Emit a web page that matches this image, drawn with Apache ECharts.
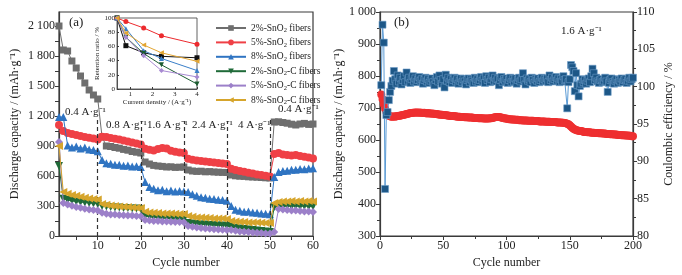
<!DOCTYPE html>
<html>
<head>
<meta charset="utf-8">
<script src="https://cdn.jsdelivr.net/npm/echarts@6/dist/echarts.min.js"></script>
<style>
html, body { margin: 0; padding: 0; background: #fff; }
#chart { width: 682px; height: 275px; }
</style>
</head>
<body>
<div id="chart"></div>
<script>
// (a) 倍率性能，每个系列 60 个循环
const rateNames = ["2%-SnO₂ fibers", "5%-SnO₂ fibers", "8%-SnO₂ fibers",
    "2%-SnO₂-C fibers", "5%-SnO₂-C fibers", "8%-SnO₂-C fibers"];
const rate2Sn = [2100, 1860, 1850, 1750, 1680, 1600, 1530, 1460, 1410, 1370,
    990, 900, 895, 885, 878, 866, 858, 845, 838, 830,
    740, 720, 706, 700, 696, 690, 692, 686, 688, 690,
    660, 650, 646, 648, 642, 644, 640, 638, 636, 635,
    610, 602, 598, 596, 592, 590, 588, 585, 582, 580,
    1140, 1142, 1135, 1128, 1118, 1110, 1120, 1126, 1116, 1120];
const rate5Sn = [1110, 1050, 1030, 1020, 1010, 1000, 990, 982, 975, 965,
    992, 990, 980, 972, 965, 956, 946, 936, 926, 915,
    872, 862, 856, 870, 880, 874, 852, 842, 836, 830,
    772, 762, 756, 750, 746, 740, 736, 730, 726, 720,
    672, 660, 650, 642, 632, 625, 616, 610, 602, 596,
    820, 830, 816, 810, 804, 810, 800, 792, 786, 776];
const rate8Sn = [1190, 1190, 905, 885, 895, 875, 885, 865, 860, 848,
    760, 728, 722, 712, 712, 702, 704, 696, 698, 690,
    540, 490, 472, 458, 462, 448, 454, 444, 450, 446,
    440, 418, 402, 388, 382, 372, 370, 362, 360, 352,
    300, 262, 252, 242, 244, 234, 232, 224, 222, 218,
    590, 640, 650, 652, 662, 662, 670, 668, 676, 678];
const rate2SnC = [700, 372, 360, 352, 344, 340, 334, 330, 326, 320,
    300, 296, 290, 286, 284, 280, 280, 276, 274, 270,
    200, 192, 186, 182, 180, 176, 174, 170, 168, 165,
    130, 124, 120, 116, 114, 110, 108, 105, 104, 100,
    90, 82, 76, 70, 66, 60, 56, 50, 46, 40,
    290, 296, 294, 300, 296, 300, 294, 300, 296, 296];
const rate5SnC = [940, 330, 316, 302, 290, 282, 272, 266, 260, 255,
    232, 222, 216, 214, 210, 208, 205, 204, 200, 198,
    160, 156, 150, 150, 146, 144, 142, 140, 140, 138,
    100, 92, 86, 80, 76, 72, 68, 66, 62, 60,
    60, 52, 46, 42, 40, 36, 32, 30, 26, 24,
    40, 270, 266, 260, 256, 254, 250, 246, 244, 240];
const rate8SnC = [900, 440, 422, 410, 402, 392, 382, 376, 370, 364,
    320, 312, 306, 300, 296, 292, 290, 286, 282, 280,
    242, 236, 232, 230, 226, 226, 224, 222, 220, 220,
    200, 192, 186, 186, 182, 180, 176, 176, 174, 170,
    150, 146, 142, 140, 136, 136, 134, 132, 130, 130,
    330, 340, 344, 346, 350, 344, 350, 346, 350, 346];
const rateSteps = [10, 20, 30, 40, 50];
const rateXTicks = [10, 20, 30, 40, 50, 60];
const rateYTicks = [0, 300, 600, 900, 1200, 1500, 1800, 2100];

// 插图：容量保持率
const densities = [0.4, 0.8, 1.6, 2.4, 4];
const keep2Sn = [100, 61, 51, 46, 44];
const keep5Sn = [100, 95, 86, 75, 63];
const keep8Sn = [100, 85, 54, 43, 26];
const keep2SnC = [100, 73, 50, 34, 7];
const keep5SnC = [100, 73, 47, 26, 17];
const keep8SnC = [100, 79, 62, 51, 39];

// (b) 1.6 A/g 循环 200 次
const cycCap = [742, 728, 712, 698, 688, 680, 676, 674, 673, 673,
    674, 673, 674, 675, 676, 676, 677, 678, 679, 680,
    681, 682, 683, 684, 684, 685, 685, 686, 686, 685,
    686, 685, 685, 684, 685, 684, 683, 684, 683, 683,
    683, 682, 682, 681, 681, 680, 680, 679, 679, 678,
    678, 677, 677, 676, 676, 675, 675, 675, 674, 674,
    673, 673, 673, 672, 672, 672, 671, 671, 671, 670,
    670, 670, 670, 669, 669, 669, 669, 668, 668, 668,
    668, 667, 667, 667, 667, 667, 668, 668, 669, 670,
    671, 672, 672, 672, 671, 670, 669, 668, 667, 667,
    666, 665, 665, 664, 664, 664, 663, 663, 663, 662,
    662, 662, 661, 661, 661, 661, 660, 660, 660, 660,
    660, 659, 659, 659, 659, 658, 658, 658, 658, 658,
    657, 657, 657, 657, 656, 656, 656, 656, 656, 655,
    655, 655, 655, 654, 654, 653, 652, 651, 649, 646,
    642, 638, 635, 633, 631, 630, 629, 628, 628, 627,
    625, 625, 625, 624, 624, 624, 623, 623, 623, 622,
    622, 622, 621, 621, 621, 620, 620, 620, 619, 619,
    619, 618, 618, 618, 617, 617, 617, 616, 616, 616,
    615, 615, 615, 614, 614, 614, 613, 613, 612, 612];
const cycCE = [100.2, 108.3, 105.9, 86.3, 96.2, 96.6, 98.2, 99.3, 100.1, 100.8,
    102.1, 101.0, 100.4, 101.5, 100.7, 101.2, 100.3, 100.9, 101.4, 100.6,
    101.9, 100.8, 101.2, 100.5, 101.0, 101.4, 100.7, 101.1, 100.6, 100.9,
    101.3, 100.8, 101.0, 100.4, 100.9, 101.2, 100.7, 101.0, 100.5, 100.8,
    101.1, 100.6, 100.2, 100.9, 101.3, 100.7, 101.5, 100.9, 100.4, 101.0,
    99.9, 101.6, 100.8, 101.2, 100.6, 101.0, 100.5, 100.9, 101.2, 100.7,
    101.0, 100.4, 100.8, 101.1, 100.6, 101.0, 100.7, 100.3, 100.9, 101.1,
    100.6, 101.0, 100.8, 100.5, 101.2, 100.7, 101.0, 100.6, 100.9, 101.3,
    100.8, 101.1, 100.5, 101.4, 100.9, 101.2, 100.6, 101.0, 101.5, 100.8,
    101.2, 100.7, 101.0, 100.2, 100.9, 101.3, 100.6, 101.0, 100.8, 101.1,
    100.5, 100.9, 101.2, 100.6, 101.0, 100.7, 101.1, 100.4, 100.9, 101.2,
    100.7, 101.0, 101.8, 100.9, 100.3, 101.1, 100.8, 101.0, 100.6, 101.2,
    100.9, 100.5, 101.0, 100.8, 101.1, 100.6, 100.9, 101.2, 100.7, 101.0,
    100.8, 101.1, 100.6, 101.5, 100.9, 101.2, 100.7, 101.0, 101.3, 100.8,
    101.1, 100.6, 101.0, 100.7, 101.4, 100.9, 101.0, 97.1, 100.6, 101.0,
    102.9, 102.6, 102.1, 99.4, 101.8, 100.2, 98.7, 100.1, 100.4, 101.0,
    100.6, 100.9, 100.4, 100.8, 101.1, 100.6, 101.4, 102.4, 101.8, 100.9,
    101.2, 100.7, 100.5, 100.9, 101.0, 100.6, 100.8, 101.2, 100.7, 99.3,
    100.5, 100.9, 101.1, 100.6, 100.4, 100.8, 101.0, 100.5, 100.9, 100.7,
    101.1, 100.6, 100.9, 101.0, 100.5, 100.8, 101.2, 100.7, 101.0, 101.2];

const FONT = '"Liberation Serif", "Times New Roman", serif';
const AX = '#3a3a3a';
const colors = ['#6e6e6e', '#ef4046', '#2f74c2', '#1f6a38', '#9c80c9', '#d6a52c'];
const insetColors = ['#111111', '#ec2a2e', '#3a7fc8', '#1c5c30', '#a88ad2', '#e2a532'];
const symbols = ['rect', 'circle', 'triangle', 'triangle', 'diamond', 'triangle'];
const rotates = [0, 0, 0, 180, 0, 90];

const rateData = [rate2Sn, rate5Sn, rate8Sn, rate2SnC, rate5SnC, rate8SnC];
const keepData = [keep2Sn, keep5Sn, keep8Sn, keep2SnC, keep5SnC, keep8SnC];

function sep(v) {
    return v >= 1000 ? String(v).replace(/(\d)(\d{3})$/, '$1 $2') : String(v);
}

let series = [];
rateData.forEach(function (arr, k) {
    series.push({
        name: rateNames[k],
        type: 'line',
        xAxisIndex: 0, yAxisIndex: 0,
        data: arr.map(function (v, i) { return [i + 1, v]; }),
        symbol: symbols[k],
        symbolRotate: rotates[k],
        symbolSize: k === 0 ? 7 : 8,
        itemStyle: { color: colors[k] },
        lineStyle: { color: colors[k], width: 1 },
        z: 2 + k
    });
});
// 分段虚线
series[0].markLine = {
    silent: true,
    symbol: ['none', 'none'],
    label: { show: false },
    lineStyle: { type: [4, 3], color: '#333', width: 1.2 },
    data: rateSteps.map(function (c) {
        let top = (c === 10 || c === 50) ? 1180 : 1150;
        return [{ coord: [c, 0] }, { coord: [c, top] }];
    })
};
keepData.forEach(function (arr, k) {
    series.push({
        name: rateNames[k],
        type: 'line',
        xAxisIndex: 1, yAxisIndex: 1,
        data: arr.map(function (v, i) { return [densities[i], v]; }),
        symbol: symbols[k],
        symbolRotate: rotates[k],
        symbolSize: 5,
        itemStyle: { color: insetColors[k] },
        lineStyle: { color: insetColors[k], width: 1 },
        z: 20 + k
    });
});
series.push({
    name: 'cap',
    type: 'line',
    xAxisIndex: 2, yAxisIndex: 2,
    data: cycCap.map(function (v, i) { return [i + 1, v]; }),
    symbol: 'circle',
    symbolSize: 8,
    itemStyle: { color: '#ee2f30' },
    lineStyle: { color: '#ee2f30', width: 1 },
    z: 3
});
series.push({
    name: 'ce',
    type: 'line',
    xAxisIndex: 2, yAxisIndex: 3,
    data: cycCE.map(function (v, i) { return [i + 1, v]; }),
    symbol: 'rect',
    symbolSize: 7,
    itemStyle: { color: '#1d5787', borderColor: '#6c9cc8', borderWidth: 0.6 },
    lineStyle: { color: '#5b9bd5', width: 1 },
    z: 4
});

function baseAxis(extra) {
    return Object.assign({
        type: 'value',
        splitLine: { show: false },
        axisLine: { show: true, onZero: false, lineStyle: { color: AX, width: 1.2 } },
        axisTick: { show: true, length: 4, lineStyle: { color: AX } },
        axisLabel: { color: '#222', fontFamily: FONT, fontSize: 12, margin: 4 },
        nameTextStyle: { color: '#222', fontFamily: FONT, fontSize: 12 }
    }, extra);
}

function txt(s, x, y, size) {
    return {
        type: 'text', x: x, y: y, silent: true,
        style: { text: s, fontFamily: FONT, fontSize: size, fill: '#222' }
    };
}

let option = {
    animation: false,
    backgroundColor: '#fff',
    grid: [
        { left: 59, top: 12, width: 254, height: 224, show: true, borderColor: AX, borderWidth: 1.2 },
        { left: 117, top: 18, width: 80, height: 71, show: true, borderColor: AX, borderWidth: 0.8, backgroundColor: '#fff', z: 10 },
        { left: 380, top: 12, width: 253, height: 224, show: true, borderColor: AX, borderWidth: 1.2 }
    ],
    legend: {
        data: rateNames,
        orient: 'vertical',
        left: 210, top: 17,
        itemWidth: 30, itemHeight: 7, itemGap: 2.4,
        formatter: function (name) { return name.replace('₂', '{s|2}'); },
        textStyle: {
            fontFamily: FONT, fontSize: 9.5, color: '#222', lineHeight: 12,
            rich: { s: { fontFamily: FONT, fontSize: 6.5, lineHeight: 6, verticalAlign: 'bottom', color: '#222' } }
        },
        selectedMode: false
    },
    xAxis: [
        baseAxis({
            gridIndex: 0, min: 1, max: 60,
            name: 'Cycle number', nameLocation: 'middle', nameGap: 20,
            axisLabel: { color: '#222', fontFamily: FONT, fontSize: 12, margin: 4, customValues: rateXTicks },
            axisTick: { show: true, length: 4, lineStyle: { color: AX }, customValues: [5, 10, 15, 20, 25, 30, 35, 40, 45, 50, 55, 60] }
        }),
        baseAxis({
            gridIndex: 1, min: 0.4, max: 4,
            name: 'Current density / (A·g⁻¹)', nameLocation: 'middle', nameGap: 9,
            nameTextStyle: { color: '#222', fontFamily: FONT, fontSize: 7 },
            axisLine: { show: true, onZero: false, lineStyle: { color: AX, width: 0.8 } },
            axisTick: { show: true, inside: true, length: 2, lineStyle: { color: AX }, customValues: [1, 2, 3, 4] },
            axisLabel: { color: '#222', fontFamily: FONT, fontSize: 7, margin: 2, customValues: [1, 2, 3, 4] },
            z: 11
        }),
        baseAxis({
            gridIndex: 2, min: 0, max: 200, interval: 50,
            name: 'Cycle number', nameLocation: 'middle', nameGap: 20,
            minorTick: { show: true, splitNumber: 2, length: 3, lineStyle: { color: AX } }
        })
    ],
    yAxis: [
        baseAxis({
            gridIndex: 0, min: 0, max: 2240,
            name: 'Discharge capacity / (mAh·g⁻¹)', nameLocation: 'middle', nameGap: 38, nameRotate: 90,
            axisLabel: { color: '#222', fontFamily: FONT, fontSize: 12, margin: 4, customValues: rateYTicks, formatter: sep },
            axisTick: { show: true, length: 4, lineStyle: { color: AX },
                customValues: [0, 150, 300, 450, 600, 750, 900, 1050, 1200, 1350, 1500, 1650, 1800, 1950, 2100] }
        }),
        baseAxis({
            gridIndex: 1, min: 0, max: 100, interval: 20,
            name: 'Retention ratio / %', nameLocation: 'middle', nameGap: 11, nameRotate: 90,
            nameTextStyle: { color: '#222', fontFamily: FONT, fontSize: 7 },
            axisLine: { show: true, onZero: false, lineStyle: { color: AX, width: 0.8 } },
            axisTick: { show: true, inside: true, length: 2, lineStyle: { color: AX } },
            axisLabel: { color: '#222', fontFamily: FONT, fontSize: 7, margin: 2 },
            z: 11
        }),
        baseAxis({
            gridIndex: 2, min: 300, max: 1000, interval: 100,
            name: 'Discharge capacity / (mAh·g⁻¹)', nameLocation: 'middle', nameGap: 32, nameRotate: 90,
            axisLabel: { color: '#222', fontFamily: FONT, fontSize: 12, margin: 4, formatter: sep },
            minorTick: { show: true, splitNumber: 2, length: 3, lineStyle: { color: AX } }
        }),
        baseAxis({
            gridIndex: 2, min: 80, max: 110, interval: 5, position: 'right',
            name: 'Coulombic efficiency / %', nameLocation: 'middle', nameGap: 30, nameRotate: 90,
            minorTick: { show: true, splitNumber: 2, length: 3, lineStyle: { color: AX } }
        })
    ],
    graphic: [
        txt('(a)', 69, 16, 13),
        txt('0.4 A·g⁻¹', 65, 107, 11),
        txt('0.8 A·g⁻¹', 106, 120, 11),
        txt('1.6 A·g⁻¹', 147, 120, 11),
        txt('2.4 A·g⁻¹', 192, 120, 11),
        txt('4 A·g⁻¹', 238, 120, 11),
        txt('0.4 A·g⁻¹', 278, 104, 11),
        txt('(b)', 394, 16, 13),
        txt('1.6 A·g⁻¹', 561, 26, 11)
    ],
    series: series
};

let myChart = echarts.init(document.getElementById('chart'));
myChart.setOption(option);
</script>
</body>
</html>
